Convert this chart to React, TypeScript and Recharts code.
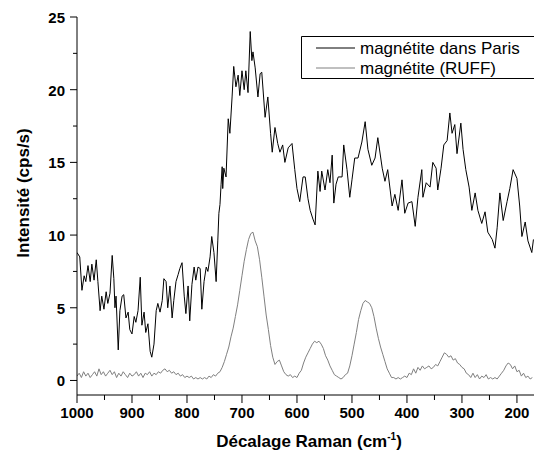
import React from 'react'
import {LineChart, Line, XAxis, YAxis, Legend} from 'recharts'

// Raman spectrum, sample from Paris (black)
const parisShift = [
  1000, 995, 991, 987, 984, 980, 976, 973, 969, 965, 962, 958, 955, 951, 947, 944, 940, 936, 933, 931,
  929, 925, 922, 918, 915, 911, 907, 904, 900, 896, 893, 889, 885, 882, 878, 875, 871, 867, 864, 860,
  856, 853, 849, 845, 842, 838, 835, 831, 827, 824, 820, 816, 813, 809, 805, 802, 798, 795, 791, 787,
  784, 780, 776, 773, 769, 765, 762, 758, 755, 751, 747, 744, 742, 740, 738, 736, 735, 733, 729, 725,
  722, 718, 715, 711, 707, 704, 700, 696, 693, 689, 685, 682, 680, 676, 671, 667, 664, 658, 653, 648,
  645, 640, 635, 631, 626, 622, 616, 609, 604, 600, 595, 589, 585, 580, 576, 571, 567, 562, 558, 555,
  549, 544, 540, 536, 533, 529, 525, 518, 515, 509, 504, 500, 495, 489, 482, 476, 471, 464, 458, 453,
  445, 440, 435, 427, 422, 416, 409, 404, 398, 391, 385, 380, 373, 371, 365, 358, 353, 347, 344, 338,
  333, 327, 322, 318, 313, 309, 302, 298, 293, 287, 282, 276, 271, 264, 258, 253, 245, 240, 236, 231,
  225, 218, 213, 207, 200, 195, 191, 185, 180, 173, 170,
]
const parisIntensity = [
  8.8, 8.5, 6.2, 7.2, 6.8, 7.9, 6.8, 8.0, 6.9, 8.3, 6.8, 4.8, 5.8, 4.9, 6.1, 5.3, 6.0, 8.6, 7.0, 5.0,
  5.8, 2.1, 4.8, 5.8, 5.9, 4.3, 4.7, 3.5, 3.2, 4.4, 4.0, 4.8, 7.1, 3.8, 4.7, 3.3, 3.9, 2.0, 1.6, 2.5,
  4.8, 5.3, 4.7, 5.5, 7.0, 6.8, 5.0, 6.5, 4.3, 5.5, 6.8, 7.3, 7.7, 8.1, 5.8, 4.6, 6.5, 4.1, 6.6, 7.8,
  6.9, 7.8, 7.7, 4.9, 6.8, 7.8, 7.5, 8.5, 9.9, 8.8, 6.8, 9.6, 11.5, 12.1, 13.5, 14.7, 13.2, 14.6, 14.0, 18.0,
  17.0, 19.5, 21.6, 20.2, 21.0, 19.6, 21.3, 20.0, 21.3, 19.8, 24.0, 22.0, 22.6, 21.5, 19.5, 21.1, 21.2, 18.1, 19.5, 17.0,
  15.7, 17.4, 16.3, 15.7, 16.2, 15.0, 16.0, 16.3, 14.5, 13.2, 12.3, 14.0, 14.0, 12.5, 11.7, 11.1, 10.7, 14.4, 13.0, 14.4,
  13.1, 14.5, 13.6, 15.5, 12.2, 13.5, 14.0, 14.0, 16.2, 14.5, 12.6, 13.8, 15.3, 15.3, 16.4, 17.8, 15.9, 14.8, 15.3, 16.7,
  14.6, 13.7, 14.5, 12.0, 12.8, 11.7, 13.8, 11.5, 12.2, 12.3, 10.6, 12.6, 14.5, 12.6, 13.6, 13.3, 15.0, 14.6, 13.1, 14.6,
  16.2, 16.5, 18.4, 17.0, 17.6, 15.6, 17.7, 15.9, 14.5, 13.3, 11.7, 12.9, 11.7, 10.8, 11.6, 10.2, 9.7, 9.1, 10.5, 12.9,
  11.0, 12.3, 13.2, 14.5, 13.9, 12.0, 9.9, 10.9, 9.6, 8.8, 9.7,
]

// Reference spectrum from the RUFF database (grey)
const ruffShift = [
  1000, 996, 992, 988, 984, 980, 976, 972, 968, 964, 960, 956, 952, 948, 944, 940, 936, 932, 928, 924,
  920, 916, 912, 908, 904, 900, 896, 892, 888, 884, 880, 876, 872, 868, 864, 860, 856, 852, 848, 844,
  840, 836, 832, 828, 824, 820, 816, 812, 808, 804, 800, 796, 792, 788, 784, 780, 776, 772, 768, 764,
  760, 756, 752, 748, 744, 740, 736, 732, 728, 724, 720, 716, 712, 708, 704, 700, 696, 692, 688, 684,
  680, 676, 672, 668, 664, 660, 656, 652, 648, 644, 640, 636, 632, 628, 624, 620, 616, 612, 608, 604,
  600, 596, 592, 588, 584, 580, 576, 572, 568, 564, 560, 556, 552, 548, 544, 540, 536, 532, 528, 524,
  520, 516, 512, 508, 504, 500, 496, 492, 488, 484, 480, 476, 472, 468, 464, 460, 456, 452, 448, 444,
  440, 436, 432, 428, 424, 420, 416, 412, 408, 404, 400, 396, 392, 388, 384, 380, 376, 372, 368, 364,
  360, 356, 352, 348, 344, 340, 336, 332, 328, 324, 320, 316, 312, 308, 304, 300, 296, 292, 288, 284,
  280, 276, 272, 268, 264, 260, 256, 252, 248, 244, 240, 236, 232, 228, 224, 220, 216, 212, 208, 204,
  200, 196, 192, 188, 184, 180, 176, 172,
]
const ruffIntensity = [
  0.3, 0.5, 0.2, 0.6, 0.3, 0.5, 0.2, 0.4, 0.6, 0.3, 0.8, 0.4, 0.6, 0.3, 0.5, 0.7, 0.4, 0.6, 0.2, 0.5,
  0.3, 0.6, 0.4, 0.2, 0.5, 0.3, 0.4, 0.6, 0.3, 0.5, 0.2, 0.5, 0.4, 0.6, 0.3, 0.5, 0.4, 0.6, 0.5, 0.7,
  0.8, 0.6, 0.7, 0.5, 0.6, 0.4, 0.5, 0.3, 0.4, 0.2, 0.3, 0.2, 0.3, 0.1, 0.2, 0.1, 0.2, 0.1, 0.2, 0.1,
  0.3, 0.2, 0.4, 0.3, 0.5, 0.6, 0.9, 1.3, 1.8, 2.3, 3.0, 3.6, 4.4, 5.2, 6.2, 7.2, 8.2, 9.0, 9.7, 10.1,
  10.2, 9.6, 9.2, 8.3, 7.1, 5.8, 4.5, 3.5, 2.4, 1.6, 1.1, 1.3, 1.4, 1.0, 0.6, 0.4, 0.3, 0.4, 0.2, 0.3,
  0.2, 0.5, 0.7, 1.2, 1.6, 1.9, 2.2, 2.5, 2.7, 2.6, 2.7, 2.5, 2.2, 1.7, 1.4, 1.0, 0.7, 0.4, 0.3, 0.2,
  0.1, 0.2, 0.4, 0.5, 1.0, 1.7, 2.5, 3.3, 4.2, 4.8, 5.3, 5.5, 5.4, 5.3, 5.0, 4.4, 3.6, 2.9, 2.3, 1.8,
  1.3, 0.8, 0.5, 0.2, 0.2, 0.1, 0.2, 0.1, 0.2, 0.3, 0.2, 0.5, 0.4, 0.8, 0.5, 0.9, 0.7, 1.0, 0.8, 0.9,
  1.0, 0.8, 0.9, 1.1, 1.0, 1.3, 1.6, 1.9, 1.8, 1.6, 1.7, 1.4, 1.5, 1.2, 1.1, 0.9, 0.8, 0.5, 0.4, 0.2,
  0.5, 0.2, 0.4, 0.1, 0.3, 0.2, 0.4, 0.1, 0.2, 0.1, 0.2, 0.1, 0.3, 0.5, 0.7, 1.0, 1.2, 1.1, 0.8, 1.0,
  0.6, 0.7, 0.3, 0.5, 0.2, 0.3, 0.1, 0.2,
]

const xTicks = [1000, 950, 900, 850, 800, 750, 700, 650, 600, 550, 500, 450, 400, 350, 300, 250, 200]
const yTicks = [0, 2.5, 5, 7.5, 10, 12.5, 15, 17.5, 20, 22.5, 25]

const parisData = parisShift.map((x, i) => ({x, y: parisIntensity[i]}))
const ruffData = ruffShift.map((x, i) => ({x, y: ruffIntensity[i]}))

const FONT = '"Liberation Sans", Arial, sans-serif'

function BottomTick({x, y, payload}: any) {
  const major = payload.value % 100 === 0
  return (
    <g>
      <line x1={x} x2={x} y1={y} y2={y + (major ? 8 : 5)} stroke="#000" />
      {major && (
        <text x={x} y={y + 23} textAnchor="middle" fontSize={15} fontWeight="bold" fontFamily={FONT} fill="#000">
          {payload.value}
        </text>
      )}
    </g>
  )
}

function TopTick({x, y, payload}: any) {
  const major = payload.value % 100 === 0
  return <line x1={x} x2={x} y1={y} y2={y + (major ? 8 : 5)} stroke="#000" />
}

function LeftTick({x, y, payload}: any) {
  const major = payload.value % 5 === 0
  return (
    <g>
      <line x1={x - (major ? 7 : 4)} x2={x} y1={y} y2={y} stroke="#000" />
      {major && (
        <text x={x - 12} y={y + 6} textAnchor="end" fontSize={15} fontWeight="bold" fontFamily={FONT} fill="#000">
          {payload.value}
        </text>
      )}
    </g>
  )
}

function LegendBox() {
  return (
    <svg width={233} height={43} style={{display: 'block'}}>
      <polyline points="233,0.5 0.5,0.5 0.5,42.5 233,42.5" fill="#fff" stroke="#000" />
      <line x1={15} x2={54} y1={12} y2={12} stroke="#000" />
      <line x1={15} x2={54} y1={32} y2={32} stroke="#808080" />
      <text x={59} y={18} fontSize={17} fontFamily={FONT} fill="#000">magnétite dans Paris</text>
      <text x={59} y={38} fontSize={17} fontFamily={FONT} fill="#000">magnétite (RUFF)</text>
    </svg>
  )
}

export default function App() {
  return (
    <div style={{position: 'absolute', left: 0, top: 0, background: '#fff'}}>
      <LineChart width={534} height={452} margin={{top: 17, right: 0, bottom: 0, left: 0}}>
        <XAxis
          dataKey="x"
          type="number"
          domain={[169, 1000]}
          reversed
          allowDataOverflow
          ticks={xTicks}
          interval={0}
          height={57}
          tickSize={0}
          tickMargin={0}
          tickLine={false}
          axisLine={{stroke: '#000'}}
          tick={<BottomTick />}
          label={{
            content: () => (
              <text x={309} y={447} textAnchor="middle" fontSize={17} fontWeight="bold" fontFamily={FONT} fill="#000">
                Décalage Raman (cm
                <tspan fontSize={10} dy={-7}>-1</tspan>
                <tspan dy={7}>)</tspan>
              </text>
            ),
          }}
        />
        <XAxis
          xAxisId="top"
          orientation="top"
          dataKey="x"
          type="number"
          domain={[169, 1000]}
          reversed
          allowDataOverflow
          ticks={xTicks}
          interval={0}
          height={0}
          tickSize={0}
          tickMargin={0}
          tickLine={false}
          axisLine={{stroke: '#000'}}
          tick={<TopTick />}
        />
        <YAxis
          type="number"
          domain={[-1, 25]}
          allowDataOverflow
          ticks={yTicks}
          interval={0}
          width={77}
          tickSize={0}
          tickMargin={0}
          tickLine={false}
          axisLine={{stroke: '#000'}}
          tick={<LeftTick />}
          label={{
            content: () => (
              <text
                x={29}
                y={193}
                transform="rotate(-90 29 193)"
                textAnchor="middle"
                fontSize={17}
                fontWeight="bold"
                fontFamily={FONT}
                fill="#000"
              >
                Intensité (cps/s)
              </text>
            ),
          }}
        />
        <Line
          data={ruffData}
          dataKey="y"
          stroke="#808080"
          strokeWidth={1}
          dot={false}
          activeDot={false}
          isAnimationActive={false}
        />
        <Line
          data={parisData}
          dataKey="y"
          stroke="#000"
          strokeWidth={1}
          dot={false}
          activeDot={false}
          isAnimationActive={false}
        />
        <Legend
          layout="horizontal"
          verticalAlign="middle"
          align="center"
          wrapperStyle={{left: 301, top: 36, width: 233, height: 43}}
          content={() => <LegendBox />}
        />
      </LineChart>
    </div>
  )
}
